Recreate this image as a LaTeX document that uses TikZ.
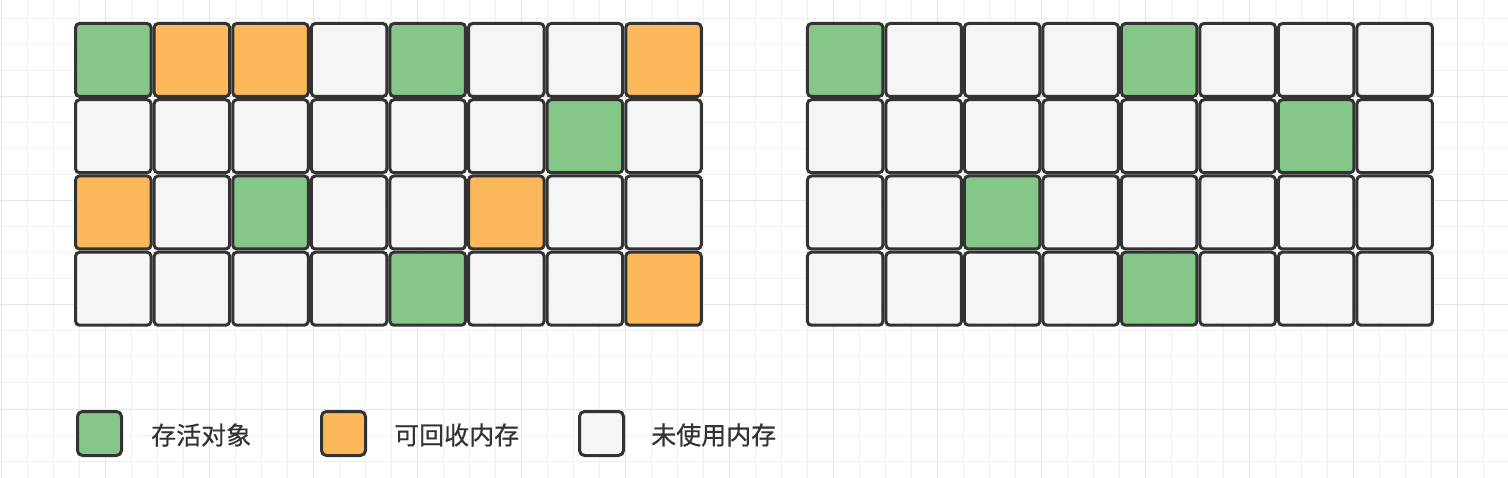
\documentclass[tikz,border=0pt]{standalone}
\usepackage{fontspec}
\newfontfamily\cjk[FakeBold=0.6]{Noto Sans CJK SC}
\definecolor{live}{RGB}{133,199,137}
\definecolor{dead}{RGB}{253,184,91}
\definecolor{free}{RGB}{245,245,245}
\definecolor{edge}{RGB}{51,51,51}
\definecolor{gridminor}{RGB}{240,240,240}
\definecolor{gridmajor}{RGB}{228,228,228}
\tikzset{
  cell/.style={draw=edge, line width=3pt, rounded corners=4pt, inner sep=0pt,
    minimum width=75.5pt, minimum height=73pt},
  g/.style={cell, fill=live},
  o/.style={cell, fill=dead},
  w/.style={cell, fill=free},
  key/.style={draw=edge, line width=3pt, rounded corners=5pt, inner sep=0pt,
    minimum size=44pt},
  keytext/.style={inner sep=0pt, anchor=west, text=edge,
    font=\cjk\fontsize{25}{30}\selectfont},
}

\begin{document}
\begin{tikzpicture}[x=1pt, y=-1pt]
      \useasboundingbox (0,0) rectangle (1508,478);
      \fill[white] (0,0) rectangle (1508,478);

      % background grid
      \foreach \k in {0,...,57}
        \draw[gridminor, line width=1pt] (1+26*\k,0) -- (1+26*\k,478);
      \foreach \k in {0,...,17}
        \draw[gridminor, line width=1pt] (0,19+26*\k) -- (1508,19+26*\k);
      \foreach \k in {0,4,...,56}
        \draw[gridmajor, line width=1pt] (1+26*\k,0) -- (1+26*\k,478);
      \foreach \k in {3,7,11,15}
        \draw[gridmajor, line width=1pt] (0,19+26*\k) -- (1508,19+26*\k);

      % heap before collection
      \foreach \row [count=\j from 0] in {{g,o,o,w,g,w,w,o},{w,w,w,w,w,w,g,w},{o,w,g,w,w,o,w,w},{w,w,w,w,g,w,w,o}}
        \foreach \c [count=\i from 0] in \row
          \node[\c] (L-\j-\i) at (113.3+78.6*\i, 60+76.25*\j) {};

      % heap after collection
      \foreach \row [count=\j from 0] in {{g,w,w,w,g,w,w,w},{w,w,w,w,w,w,g,w},{w,w,g,w,w,w,w,w},{w,w,w,w,g,w,w,w}}
        \foreach \c [count=\i from 0] in \row
          \node[\c] (R-\j-\i) at (845.2+78.5*\i, 60+76.25*\j) {};

      % legend
      \node[key, fill=live] (k1) at (99.5,433.5) {};
      \node[keytext] (t1) at (151,435) {存活对象};
      \node[key, fill=dead] (k2) at (343.5,433.5) {};
      \node[keytext] (t2) at (394,435) {可回收内存};
      \node[key, fill=free] (k3) at (601.5,433.5) {};
      \node[keytext] (t3) at (651,435) {未使用内存};
\end{tikzpicture}
\end{document}
